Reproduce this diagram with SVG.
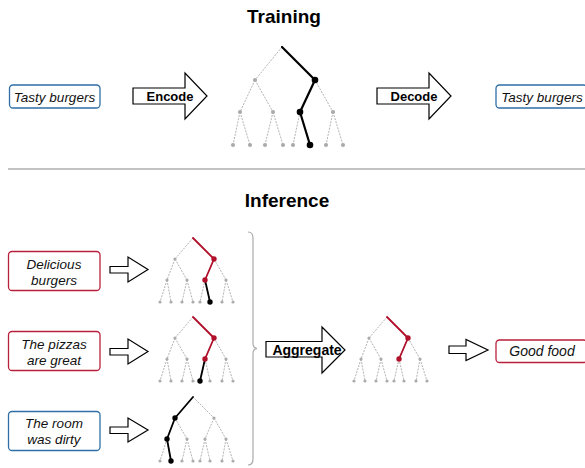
<svg xmlns="http://www.w3.org/2000/svg" xmlns:xlink="http://www.w3.org/1999/xlink" width="585" height="468" viewBox="0 0 585 468">
<style>
.title{font-family:"Liberation Sans",Arial,sans-serif;font-weight:bold;font-size:19px;fill:#000;text-anchor:middle}
.lab{font-family:"Liberation Sans",Arial,sans-serif;font-style:italic;font-size:13.5px;fill:#111;text-anchor:middle}
.act{font-family:"Liberation Sans",Arial,sans-serif;font-weight:bold;font-size:13px;fill:#000;text-anchor:middle}
.box-b{fill:#fff;stroke:#2f6fa6;stroke-width:1.3}
.box-r{fill:#fff;stroke:#b8213b;stroke-width:1.3}
.arr{fill:#fff;stroke:#000;stroke-width:1.2;stroke-linejoin:miter}
.ge{fill:none;stroke:#b3b3b3;stroke-width:1;stroke-dasharray:2 1.2}
.gd{fill:#ababab}
.hk{fill:none;stroke:#000;stroke-width:2.2;stroke-linecap:round;stroke-linejoin:round}
.hr{fill:none;stroke:#b0102a;stroke-width:1.8;stroke-linecap:round;stroke-linejoin:round}
.hk2{fill:none;stroke:#000;stroke-width:1.8;stroke-linecap:round;stroke-linejoin:round}
.dk{fill:#000}
.dr{fill:#b0102a}
</style>
<defs>
<g id="itree">
<path class="ge" d="M0,0 L-18,21 M0,0 L21,21 M-18,21 L-26,42 M-18,21 L-6,42 M21,21 L12,42 M21,21 L33,42 M-26,42 L-33,64 M-26,42 L-22,64 M-6,42 L-11,64 M-6,42 L0,64 M12,42 L7,64 M12,42 L17,64 M33,42 L29,64 M33,42 L40,64"/>
<g class="gd">
<circle cx="-18" cy="21" r="1.6"/><circle cx="21" cy="21" r="1.6"/>
<circle cx="-26" cy="42" r="1.6"/><circle cx="-6" cy="42" r="1.6"/><circle cx="12" cy="42" r="1.6"/><circle cx="33" cy="42" r="1.6"/>
<circle cx="-33" cy="64" r="1.6"/><circle cx="-22" cy="64" r="1.6"/><circle cx="-11" cy="64" r="1.6"/><circle cx="0" cy="64" r="1.6"/><circle cx="7" cy="64" r="1.6"/><circle cx="17" cy="64" r="1.6"/><circle cx="29" cy="64" r="1.6"/><circle cx="40" cy="64" r="1.6"/>
</g>
</g>
</defs>

<text class="title" x="284" y="23">Training</text>
<line x1="8" y1="169" x2="585" y2="169" stroke="#888" stroke-width="1.2"/>
<text class="title" x="287" y="207">Inference</text>

<!-- Training -->
<g id="train-input">
<rect class="box-b" x="9.5" y="85" width="90.5" height="23" rx="3.5"/>
<text class="lab" x="54.5" y="101.5">Tasty burgers</text>
</g>
<g id="encode">
<polygon class="arr" points="133,88 185,88 185,73 207,96 185,119 185,104 133,104"/>
<text class="act" x="170" y="100.5">Encode</text>
</g>
<g id="train-tree" transform="translate(282,47)">
<path class="ge" d="M0,0 L-27,33 M-27,33 L-42,65 M-27,33 L-9,65 M33,33 L51,65 M-42,65 L-49,98 M-42,65 L-32,98 M-9,65 L-17,98 M-9,65 L1,98 M18,65 L11,98 M51,65 L44,98 M51,65 L61,98"/>
<g class="gd">
<circle cx="-27" cy="33" r="2.1"/>
<circle cx="-42" cy="65" r="2.1"/><circle cx="-9" cy="65" r="2.1"/><circle cx="51" cy="65" r="2.1"/>
<circle cx="-49" cy="98" r="2.1"/><circle cx="-32" cy="98" r="2.1"/><circle cx="-17" cy="98" r="2.1"/><circle cx="1" cy="98" r="2.1"/><circle cx="11" cy="98" r="2.1"/><circle cx="44" cy="98" r="2.1"/><circle cx="61" cy="98" r="2.1"/>
</g>
<path class="hk" d="M0,0 L33,33 L18,65 L28,98"/>
<g class="dk"><circle cx="33" cy="33" r="3.3"/><circle cx="18" cy="65" r="3.3"/><circle cx="28" cy="98" r="3.3"/></g>
</g>
<g id="decode">
<polygon class="arr" points="377,88 429,88 429,73 451,96 429,119 429,104 377,104"/>
<text class="act" x="414" y="100.5">Decode</text>
</g>
<g id="train-output">
<rect class="box-b" x="496" y="85" width="91" height="23" rx="3.5"/>
<text class="lab" x="542" y="101.5">Tasty burgers</text>
</g>

<!-- Inference inputs -->
<g id="in1">
<rect class="box-r" x="8.5" y="251.5" width="91.5" height="39" rx="3.5"/>
<text class="lab" x="54" y="269">Delicious</text>
<text class="lab" x="54" y="284.5">burgers</text>
</g>
<g id="in2">
<rect class="box-r" x="8.5" y="331.5" width="91.5" height="39" rx="3.5"/>
<text class="lab" x="54" y="348.5">The pizzas</text>
<text class="lab" x="54" y="364.5">are great</text>
</g>
<g id="in3">
<rect class="box-b" x="8.5" y="411.5" width="91.5" height="39" rx="3.5"/>
<text class="lab" x="54" y="428">The room</text>
<text class="lab" x="54" y="444">was dirty</text>
</g>

<g id="connectors">
<polygon class="arr" points="110,266.5 128,266.5 128,257 148,269.5 128,282 128,273 110,273"/>
<polygon class="arr" points="110,348.5 128,348.5 128,339 148,351.5 128,364 128,355 110,355"/>
<polygon class="arr" points="110,427 128,427 128,418 148,430 128,442 128,433.5 110,433.5"/>
<path d="M248,232 Q253,232 253,238 L253,343 Q253,348 257,348.5 Q253,349 253,354 L253,459 Q253,465 248,465" fill="none" stroke="#aaa" stroke-width="1.2"/>
<polygon class="arr" points="449,346 466,346 466,339.5 488,350 466,360.5 466,353.5 449,353.5"/>
</g>

<g id="tree1" transform="translate(193,238)">
<use xlink:href="#itree"/>
<path class="hr" d="M0,0 L21,21 L12,42"/>
<path class="hk2" d="M12,42 L17,64"/>
<g class="dr"><circle cx="21" cy="21" r="2.7"/><circle cx="12" cy="42" r="2.7"/></g>
<circle class="dk" cx="17" cy="64" r="2.7"/>
</g>
<g id="tree2" transform="translate(193,317)">
<use xlink:href="#itree"/>
<path class="hr" d="M0,0 L21,21 L12,42"/>
<path class="hk2" d="M12,42 L7,64"/>
<g class="dr"><circle cx="21" cy="21" r="2.7"/><circle cx="12" cy="42" r="2.7"/></g>
<circle class="dk" cx="7" cy="64" r="2.7"/>
</g>
<g id="tree3" transform="translate(193,397)">
<use xlink:href="#itree"/>
<path class="hk2" d="M0,0 L-18,21 L-26,42 L-22,64"/>
<g class="dk"><circle cx="-18" cy="21" r="2.7"/><circle cx="-26" cy="42" r="2.7"/><circle cx="-22" cy="64" r="2.7"/></g>
</g>

<g id="aggregate">
<polygon class="arr" points="266,341.5 322,341.5 322,327 345,350 322,373 322,357 266,357"/>
<text class="act" x="307" y="354.5" style="font-size:14px">Aggregate</text>
</g>

<g id="tree-agg" transform="translate(387,317)">
<use xlink:href="#itree"/>
<path class="hr" d="M0,0 L21,21 L12,42"/>
<g class="dr"><circle cx="21" cy="21" r="2.7"/><circle cx="12" cy="42" r="2.7"/></g>
</g>

<g id="output">
<rect class="box-r" x="496" y="340" width="91" height="22.5" rx="3.5"/>
<text class="lab" x="542" y="356" style="font-size:14px">Good food</text>
</g>
</svg>
